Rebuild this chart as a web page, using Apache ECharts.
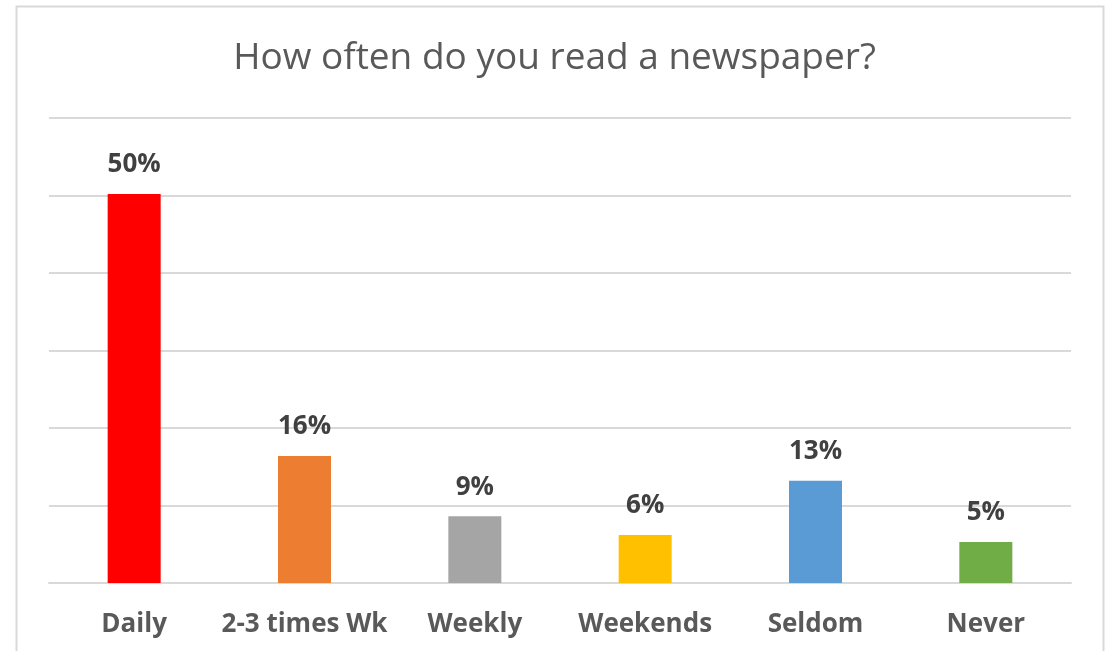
<!DOCTYPE html>
<html>
<head>
<meta charset="utf-8">
<style>
  html, body { margin: 0; padding: 0; background: #fff; }
  #chart { width: 1109px; height: 651px; }
</style>
<script src="https://cdn.jsdelivr.net/npm/echarts@6/dist/echarts.min.js"></script>
</head>
<body>
<div id="chart"></div>
<script>
const categories = ['Daily', '2-3 times Wk', 'Weekly', 'Weekends', 'Seldom', 'Never']
const values = [50.2, 16.4, 8.6, 6.2, 13.2, 5.3]
const barColors = ['#ff0000', '#ed7d31', '#a5a5a5', '#ffc000', '#5b9bd5', '#70ad47']

const chart = echarts.init(document.getElementById('chart'))

chart.setOption({
  animation: false,
  title: {
    text: 'How often do you read a newspaper?',
    left: 'center',
    top: 35,
    textStyle: {
      color: '#595959',
      fontFamily: 'Open Sans',
      fontWeight: 'normal',
      fontSize: 37
    }
  },
  graphic: [{
    type: 'rect',
    shape: { x: 16.5, y: 6.5, width: 1087, height: 700 },
    style: { fill: 'none', stroke: '#d9d9d9', lineWidth: 2 },
    silent: true
  }],
  grid: {
    left: 49,
    right: 38,
    top: 118,
    bottom: 68
  },
  xAxis: {
    type: 'category',
    data: categories,
    axisTick: { show: false },
    axisLine: { lineStyle: { color: '#d9d9d9', width: 2 } },
    axisLabel: {
      color: '#595959',
      fontFamily: 'Open Sans',
      fontWeight: 'bold',
      fontSize: 26,
      margin: 29,
      interval: 0
    }
  },
  yAxis: {
    type: 'value',
    min: 0,
    max: 60,
    interval: 10,
    axisLabel: { show: false },
    axisLine: { show: false },
    axisTick: { show: false },
    splitLine: { lineStyle: { color: '#d9d9d9', width: 2 } }
  },
  series: [{
    type: 'bar',
    barWidth: 53,
    data: values.map(function(v, i) {
      return { value: v, itemStyle: { color: barColors[i] } }
    }),
    label: {
      show: true,
      position: 'top',
      distance: 16,
      color: '#404040',
      fontFamily: 'Open Sans',
      fontWeight: 'bold',
      fontSize: 26,
      formatter: function(p) { return Math.round(p.value) + '%' }
    }
  }]
})
</script>
</body>
</html>
